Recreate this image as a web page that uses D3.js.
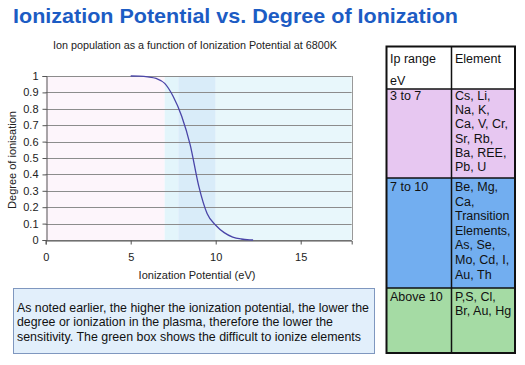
<!DOCTYPE html>
<html><head><meta charset="utf-8">
<script src="https://cdn.jsdelivr.net/npm/d3@7"></script>
<style>body{margin:0;background:#fff}svg{display:block}text{font-family:"Liberation Sans",Arial,sans-serif}</style>
</head><body>
<script>
// ---- data ----
const ipValues     = [5, 5.5, 6, 6.5, 7, 7.5, 8, 8.5, 9, 9.5, 10, 10.5, 11, 11.5, 12, 12.2];
const degreeValues = [1, 0.999, 0.995, 0.985, 0.955, 0.875, 0.755, 0.58, 0.33, 0.16, 0.09, 0.045, 0.018, 0.006, 0.001, 0];
const xTicks = [0, 5, 10, 15];
const yTicks = [0, 0.1, 0.2, 0.3, 0.4, 0.5, 0.6, 0.7, 0.8, 0.9, 1];
const bandStarts = [0, 7, 7.8, 10];
const bandEnds   = [7, 7.8, 10, 18];
const titleText = "Ionization Potential vs. Degree of Ionization";
const subtitleText = "Ion population as a function of Ionization Potential at 6800K";
const xAxisTitle = "Ionization Potential (eV)";
const yAxisTitle = "Degree of ionisation";
const headerIp = ["Ip range", "eV"];
const headerElement = "Element";
const ipRanges = ["3 to 7", "7 to 10", "Above 10"];
const elementLines = [
  ["Cs, Li,", "Na, K,", "Ca, V, Cr,", "Sr, Rb,", "Ba, REE,", "Pb, U"],
  ["Be, Mg,", "Ca,", "Transition", "Elements,", "As, Se,", "Mo, Cd, I,", "Au, Th"],
  ["P,S, Cl,", "Br, Au, Hg"]
];
const noteLines = [
  "As noted earlier, the higher the ionization potential, the lower the",
  "degree or ionization in the plasma, therefore the lower the",
  "sensitivity. The green box shows the difficult to ionize elements"
];

// ---- styles / layout ----
const W = 525, H = 365;
const bandColors = ["#fdf5fb", "#e3f5fb", "#d9ecf9", "#e8f7fb"];
const rowColors = ["#e7c7f1", "#72aef0", "#a5dba4"];

const svg = d3.select("body").append("svg").attr("width", W).attr("height", H);
svg.append("rect").attr("width", W).attr("height", H).attr("fill", "#fff");

function fit(sel, w) {
  const n = sel.node();
  if (n.getComputedTextLength() > 0) sel.attr("textLength", w).attr("lengthAdjust", "spacingAndGlyphs");
  return sel;
}

// title
fit(svg.append("text").attr("x", 13).attr("y", 23).attr("font-size", 21).attr("font-weight", "bold")
  .attr("fill", "#1c5cc4").text(titleText), 445);
fit(svg.append("text").attr("x", 53).attr("y", 49).attr("font-size", 10.5).attr("fill", "#222")
  .text(subtitleText), 284);

// plot
const x = d3.scaleLinear().domain([0, 18]).range([45.7, 351.7]);
const y = d3.scaleLinear().domain([0, 1]).range([240, 76]);

const g = svg.append("g");
g.selectAll("rect.band").data(bandStarts).enter().append("rect")
  .attr("x", (d) => x(d)).attr("y", y(1))
  .attr("width", (d, i) => x(bandEnds[i]) - x(d)).attr("height", y(0) - y(1))
  .attr("fill", (d, i) => bandColors[i]);

g.selectAll("line.grid").data(yTicks).enter().append("line")
  .attr("x1", x(0)).attr("x2", x(18)).attr("y1", (d) => Math.round(y(d)) + 0.5).attr("y2", (d) => Math.round(y(d)) + 0.5)
  .attr("stroke", "#8c8c8c").attr("stroke-width", 1);
// right border
g.append("line").attr("x1", Math.round(x(18)) + 0.5).attr("x2", Math.round(x(18)) + 0.5)
  .attr("y1", y(1)).attr("y2", y(0)).attr("stroke", "#999");

// axes
const xAxis = d3.axisBottom(x).tickValues(xTicks).tickSize(4).tickPadding(9).tickFormat(d3.format("d"));
const yAxis = d3.axisLeft(y).tickValues(yTicks).tickSize(4).tickPadding(4).tickFormat((d) => d === 0 || d === 1 ? d3.format("d")(d) : d3.format(".1f")(d));
const gx = svg.append("g").attr("transform", `translate(0,${Math.round(y(0)) + 0.5})`).call(xAxis);
const gy = svg.append("g").attr("transform", `translate(${Math.round(x(0)) + 0.5},0)`).call(yAxis);
[gx, gy].forEach((a) => {
  a.select(".domain").attr("stroke", "#555");
  a.selectAll(".tick line").attr("stroke", "#555");
  a.selectAll(".tick text").attr("font-size", 11).attr("fill", "#222").attr("font-family", '"Liberation Sans",Arial,sans-serif');
});
gy.selectAll(".tick text").attr("x", -8);

// line
const line = d3.line().x((d, i) => x(ipValues[i])).y((d) => y(d)).curve(d3.curveMonotoneX);
svg.append("path").datum(degreeValues).attr("d", line).attr("fill", "none")
  .attr("stroke", "#4a45a8").attr("stroke-width", 1.3);

// axis titles
svg.append("text").attr("x", 197).attr("y", 279).attr("text-anchor", "middle").attr("font-size", 11)
  .attr("fill", "#222").text(xAxisTitle);
svg.append("text").attr("transform", "translate(16,160) rotate(-90)").attr("text-anchor", "middle")
  .attr("font-size", 11).attr("fill", "#222").text(yAxisTitle);

// note box
svg.append("rect").attr("x", 13.5).attr("y", 288.5).attr("width", 361).attr("height", 65)
  .attr("fill", "#e2effb").attr("stroke", "#7f97bf");
const noteWidths = [352, 316, 344];
noteLines.forEach((t, i) => {
  fit(svg.append("text").attr("x", 17).attr("y", 311.5 + i * 14.5).attr("font-size", 13.5)
    .attr("fill", "#111").text(t), noteWidths[i]);
});

// table
const tx0 = 386.5, tx1 = 515, tcol = 451.5;
const rowTops = [89, 178, 288];
const rowBottoms = [178, 288, 353];
svg.append("rect").attr("x", tx0).attr("y", 46.5).attr("width", tx1 - tx0).attr("height", 353 - 46.5).attr("fill", "#fff");
svg.selectAll("rect.row").data(ipRanges).enter().append("rect")
  .attr("x", tx0).attr("y", (d, i) => rowTops[i]).attr("width", tx1 - tx0)
  .attr("height", (d, i) => rowBottoms[i] - rowTops[i]).attr("fill", (d, i) => rowColors[i]);
rowTops.forEach((t) => svg.append("line").attr("x1", tx0).attr("x2", tx1).attr("y1", t).attr("y2", t)
  .attr("stroke", "#111").attr("stroke-width", 1.5));
svg.append("line").attr("x1", tcol).attr("x2", tcol).attr("y1", 46.5).attr("y2", 353).attr("stroke", "#111").attr("stroke-width", 1.5);
svg.append("rect").attr("x", tx0).attr("y", 46.5).attr("width", tx1 - tx0).attr("height", 353 - 46.5)
  .attr("fill", "none").attr("stroke", "#111").attr("stroke-width", 2);

const tf = 12.5;
svg.append("text").attr("x", 390).attr("y", 63).attr("font-size", tf).attr("fill", "#111").text(headerIp[0]);
svg.append("text").attr("x", 390).attr("y", 84.5).attr("font-size", tf).attr("fill", "#111").text(headerIp[1]);
svg.append("text").attr("x", 455).attr("y", 63).attr("font-size", tf).attr("fill", "#111").text(headerElement);
const firstBase = [100, 191, 300.5];
const lineStep = [14.2, 14.6, 14.5];
ipRanges.forEach((r, i) => {
  svg.append("text").attr("x", 390).attr("y", firstBase[i]).attr("font-size", tf).attr("fill", "#111").text(r);
  elementLines[i].forEach((t, j) => {
    svg.append("text").attr("x", 455).attr("y", firstBase[i] + j * lineStep[i]).attr("font-size", tf)
      .attr("fill", "#111").text(t);
  });
});
</script>
</body></html>
